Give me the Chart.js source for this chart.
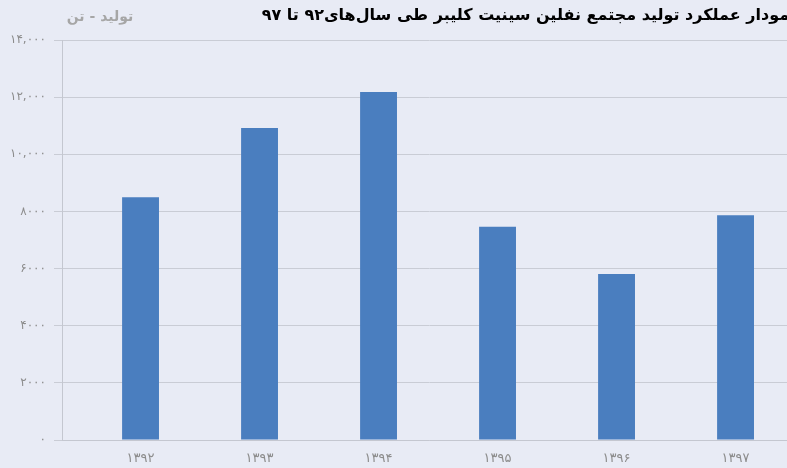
<!DOCTYPE html>
<html>
<head>
<meta charset="utf-8">
<script src="https://cdn.jsdelivr.net/npm/chart.js@4"></script>
<style>
  html, body { margin: 0; padding: 0; background: #e8ebf5; overflow: hidden; }
  #wrap { width: 796px; height: 468px; }
</style>
</head>
<body>
<div id="wrap"><canvas id="myChart"></canvas></div>
<script>
// data
var years = ['۱۳۹۲', '۱۳۹۳', '۱۳۹۴', '۱۳۹۵', '۱۳۹۶', '۱۳۹۷'];
var production = [8500, 10920, 12180, 7460, 5810, 7870];
var yTickLabels = ['۰', '۲۰۰۰', '۴۰۰۰', '۶۰۰۰', '۸۰۰۰', '۱۰,۰۰۰', '۱۲,۰۰۰', '۱۴,۰۰۰'];

var titleText = 'نمودار عملکرد تولید مجتمع نفلین سینیت کلیبر طی سال‌های۹۲ تا ۹۷';
var yAxisName = 'تولید - تن';

var points = production.map(function (v, i) { return { x: i, y: v }; });

// horizontal axis caption at top left
var axisNamePlugin = {
  id: 'axisName',
  afterDraw: function (chart) {
    var c = chart.ctx;
    c.save();
    c.font = 'bold 14px "DejaVu Sans"';
    c.fillStyle = '#a6a6a6';
    c.textAlign = 'center';
    c.textBaseline = 'middle';
    c.fillText(yAxisName, chart.chartArea.left + 38, 17);
    c.restore();
  }
};

var ctx = document.getElementById('myChart').getContext('2d');

var myChart = new Chart(ctx, {
  type: 'bar',
  data: {
    datasets: [{
      data: points,
      backgroundColor: '#4a7ebf',
      borderWidth: 0,
      categoryPercentage: 1,
      barPercentage: 0.31
    }]
  },
  options: {
    responsive: true,
    maintainAspectRatio: false,
    animation: false,
    layout: { padding: 0 },
    plugins: {
      legend: { display: false },
      tooltip: { enabled: false },
      title: {
        display: true,
        text: titleText,
        align: 'end',
        color: '#000',
        font: { family: 'DejaVu Sans', size: 16, weight: 'bold', lineHeight: 1.2 },
        padding: { top: 6, bottom: 14.8 }
      }
    },
    scales: {
      x: {
        type: 'linear',
        offset: false,
        min: -0.66,
        max: 5.508,
        grid: { display: false },
        border: { color: '#c4c7d0', width: 1 },
        ticks: {
          stepSize: 1,
          includeBounds: false,
          color: '#8c8c8c',
          font: { family: 'DejaVu Sans', size: 13 },
          padding: 3,
          maxRotation: 0,
          callback: function (v) { return Number.isInteger(v) ? years[v] : ''; }
        },
        afterFit: function (s) { s.height = 28; }
      },
      y: {
        min: 0,
        max: 14000,
        grid: { color: '#c9ccd5', tickLength: 8, lineWidth: 1 },
        border: { color: '#c4c7d0' },
        ticks: {
          stepSize: 2000,
          color: '#8c8c8c',
          font: { family: 'DejaVu Sans', size: 12 },
          padding: 8,
          callback: function (v) { return yTickLabels[v / 2000]; }
        },
        afterFit: function (s) { s.width = 62; }
      }
    }
  },
  plugins: [axisNamePlugin]
});
</script>
</body>
</html>
